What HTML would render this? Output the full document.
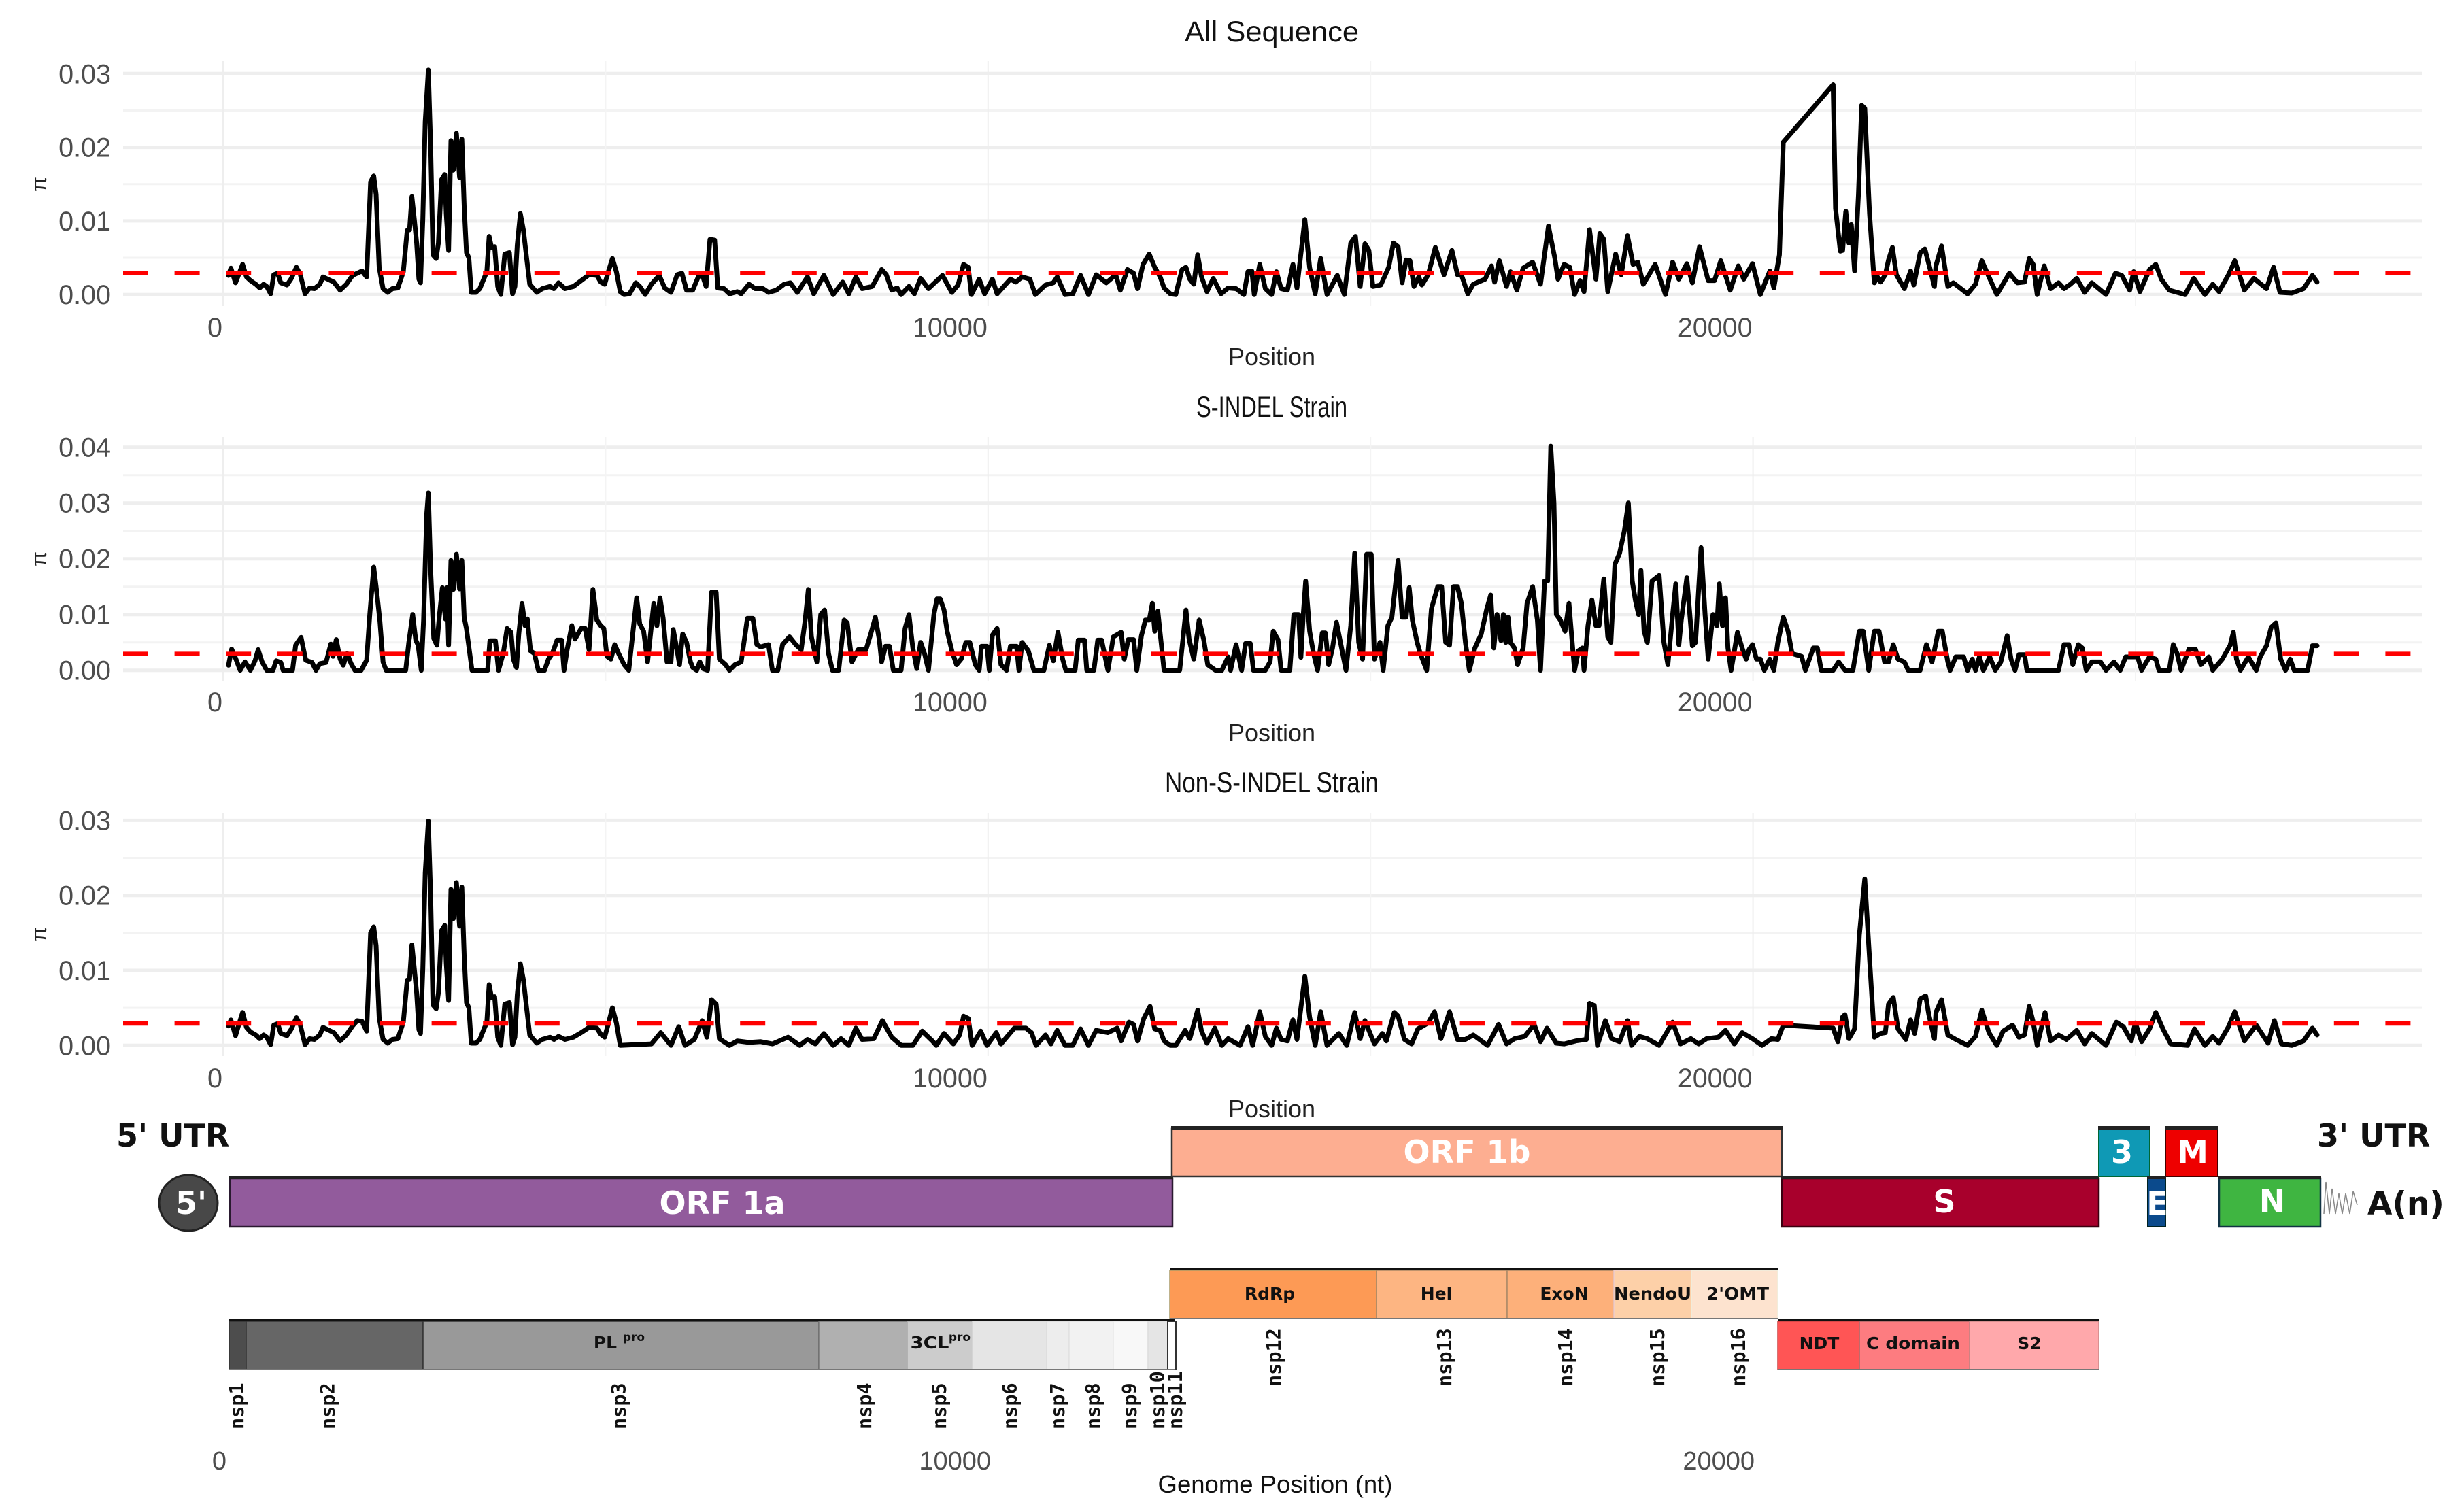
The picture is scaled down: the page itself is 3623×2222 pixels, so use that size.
<!DOCTYPE html>
<html lang="en">
<head>
<meta charset="utf-8">
<title>Nucleotide diversity across the genome</title>
<style>
html,body{margin:0;padding:0;background:#fff;width:3623px;height:2222px;overflow:hidden}
svg{display:block}
text{font-family:"Liberation Sans",sans-serif}
.gene{font-family:"DejaVu Sans","Liberation Sans",sans-serif;font-weight:700}
.nsp{font-family:"DejaVu Sans Mono","Liberation Mono",monospace;font-weight:700;font-size:28.5px;fill:#111}
.dom{font-family:"DejaVu Sans","Liberation Sans",sans-serif;font-weight:700;font-size:25px;fill:#111;text-anchor:middle}
.w46{font-size:46px;fill:#fff;text-anchor:middle}
.ax{font-size:38px;fill:#4d4d4d;text-anchor:end}
</style>
</head>
<body>
<svg id="figure" xmlns="http://www.w3.org/2000/svg" width="3623" height="2222" viewBox="0 0 3623 2222">
<rect width="3623" height="2222" fill="#fff"/>
<g id="charts"></g>

<g>
<text class="gene" x="171" y="1686" font-size="46" fill="#111">5' UTR</text>
<text class="gene" x="3407" y="1686" font-size="46" fill="#111">3' UTR</text>
<ellipse cx="277" cy="1769" rx="43" ry="41" fill="#484848" stroke="#222" stroke-width="3"/>
<text class="gene w46" x="281" y="1785">5'</text>

<rect x="338" y="1733" width="1386" height="71" fill="#925b9c" stroke="#2a1a30" stroke-width="2.5"/>
<rect x="337" y="1729" width="1388" height="5" fill="#222"/>
<text class="gene w46" x="1062" y="1785">ORF 1a</text>

<rect x="1723" y="1660" width="897" height="70" fill="#fdae91" stroke="#333" stroke-width="2.5"/>
<rect x="1722" y="1656" width="899" height="5" fill="#222"/>
<text class="gene w46" x="2157" y="1710">ORF 1b</text>

<rect x="2620" y="1733" width="466" height="71" fill="#a8002c" stroke="#3a0010" stroke-width="2.5"/>
<rect x="2619" y="1729" width="468" height="5" fill="#222"/>
<text class="gene w46" x="2859" y="1783">S</text>

<rect x="3086" y="1660" width="75" height="70" fill="#0f99b5" stroke="#063" stroke-width="2"/>
<rect x="3085" y="1656" width="77" height="5" fill="#222"/>
<text class="gene w46" x="3120" y="1710">3</text>

<rect x="3184" y="1660" width="77" height="70" fill="#ee0000" stroke="#400" stroke-width="2"/>
<rect x="3183" y="1656" width="79" height="5" fill="#222"/>
<text class="gene w46" x="3224" y="1710">M</text>

<rect x="3158" y="1733" width="26" height="71" fill="#0b4a8c" stroke="#022" stroke-width="2"/>
<rect x="3157" y="1729" width="28" height="5" fill="#222"/>
<text class="gene w46" x="3172" y="1786">E</text>

<rect x="3263" y="1733" width="149" height="71" fill="#3fb541" stroke="#134" stroke-width="2.5"/>
<rect x="3262" y="1729" width="151" height="5" fill="#222"/>
<text class="gene w46" x="3341" y="1782">N</text>

<path d="M3417 1785 L3420 1738 L3425 1785 L3429 1748 L3434 1785 L3439 1755 L3444 1785 L3449 1755 L3455 1785 L3460 1752 L3466 1772" fill="none" stroke="#888" stroke-width="1.5"/>
<text class="gene" x="3481" y="1786" font-size="47" fill="#111">A(n)</text>

<g stroke-width="1.5">
<rect x="337" y="1943" width="25" height="71" fill="#4d4d4d" stroke="#333"/>
<rect x="362" y="1943" width="260" height="71" fill="#666" stroke="#333"/>
<rect x="622" y="1943" width="582" height="71" fill="#999" stroke="#333"/>
<rect x="1204" y="1943" width="130" height="71" fill="#b0b0b0" stroke="#777"/>
<rect x="1334" y="1943" width="96" height="71" fill="#ccc" stroke="#aaa"/>
<rect x="1430" y="1943" width="109" height="71" fill="#e5e5e5" stroke="#ddd"/>
<rect x="1539" y="1943" width="33" height="71" fill="#ededed" stroke="#ddd"/>
<rect x="1572" y="1943" width="65" height="71" fill="#f2f2f2" stroke="#e2e2e2"/>
<rect x="1637" y="1943" width="51" height="71" fill="#f8f8f8" stroke="#e8e8e8"/>
<rect x="1688" y="1943" width="29" height="71" fill="#e5e5e5" stroke="#ddd"/>
<rect x="1717" y="1943" width="12" height="71" fill="#fff" stroke="#333" stroke-width="2"/>
<rect x="337" y="1939" width="1390" height="4" fill="#111" stroke="none"/>
<rect x="337" y="2013" width="1390" height="2" fill="#777" stroke="none"/>
</g>
<g stroke-width="1.5">
<rect x="1720" y="1868" width="304" height="71" fill="#fd9a55" stroke="#a96"/>
<rect x="2024" y="1868" width="192" height="71" fill="#fdb582" stroke="#a86"/>
<rect x="2216" y="1868" width="157" height="71" fill="#fdb07a" stroke="#a86"/>
<rect x="2373" y="1868" width="114" height="71" fill="#fdd0a8" stroke="#ecc"/>
<rect x="2487" y="1868" width="127" height="71" fill="#fde3cf" stroke="#eed"/>
<rect x="1720" y="1864" width="894" height="4" fill="#111" stroke="none"/>
<rect x="1720" y="1938" width="894" height="2" fill="#777" stroke="none"/>
</g>
<g stroke-width="1.5">
<rect x="2614" y="1943" width="120" height="71" fill="#ff5555" stroke="#c44"/>
<rect x="2734" y="1943" width="162" height="71" fill="#fd7c80" stroke="#a66"/>
<rect x="2896" y="1943" width="190" height="71" fill="#ffa8ab" stroke="#c88"/>
<rect x="2614" y="1939" width="472" height="4" fill="#111" stroke="none"/>
<rect x="2614" y="2013" width="472" height="2" fill="#777" stroke="none"/>
</g>

<text class="dom" x="1867" y="1911">RdRp</text>
<text class="dom" x="2112" y="1911">Hel</text>
<text class="dom" x="2300" y="1911">ExoN</text>
<text class="dom" x="2430" y="1911" textLength="114" lengthAdjust="spacingAndGlyphs">NendoU</text>
<text class="dom" x="2555" y="1911" textLength="92" lengthAdjust="spacingAndGlyphs">2'OMT</text>
<text class="dom" x="2675" y="1984">NDT</text>
<text class="dom" x="2813" y="1984" textLength="138" lengthAdjust="spacingAndGlyphs">C domain</text>
<text class="dom" x="2984" y="1984">S2</text>
<text class="dom" x="890" y="1983">PL</text>
<text class="dom" x="932" y="1972" style="font-size:17px">pro</text>
<text class="dom" x="1367" y="1983" textLength="57" lengthAdjust="spacingAndGlyphs">3CL</text>
<text class="dom" x="1411" y="1972" style="font-size:17px">pro</text>

<text class="nsp" transform="translate(358 2102) rotate(-90)">nsp1</text>
<text class="nsp" transform="translate(492 2102) rotate(-90)">nsp2</text>
<text class="nsp" transform="translate(920 2102) rotate(-90)">nsp3</text>
<text class="nsp" transform="translate(1281 2102) rotate(-90)">nsp4</text>
<text class="nsp" transform="translate(1391 2102) rotate(-90)">nsp5</text>
<text class="nsp" transform="translate(1495 2102) rotate(-90)">nsp6</text>
<text class="nsp" transform="translate(1565 2102) rotate(-90)">nsp7</text>
<text class="nsp" transform="translate(1617 2102) rotate(-90)">nsp8</text>
<text class="nsp" transform="translate(1671 2102) rotate(-90)">nsp9</text>
<text class="nsp" transform="translate(1712 2102) rotate(-90)">nsp10</text>
<text class="nsp" transform="translate(1738 2102) rotate(-90)">nsp11</text>
<text class="nsp" transform="translate(1883 2039) rotate(-90)">nsp12</text>
<text class="nsp" transform="translate(2134 2039) rotate(-90)">nsp13</text>
<text class="nsp" transform="translate(2312 2039) rotate(-90)">nsp14</text>
<text class="nsp" transform="translate(2447 2039) rotate(-90)">nsp15</text>
<text class="nsp" transform="translate(2566 2039) rotate(-90)">nsp16</text>

<text class="ax" x="333" y="2161">0</text>
<text class="ax" x="1457" y="2161">10000</text>
<text class="ax" x="2580" y="2161">20000</text>
<text x="1875" y="2195" font-size="36.5" fill="#111" text-anchor="middle">Genome Position (nt)</text>
</g>
</svg>

<script>
const xTickLabels = [0, 10000, 20000];
const gridPositionsAll = [0, 5000, 10000, 15000, 25000];
const gridPositionsStrain = [0, 5000, 10000, 15000, 20000, 25000];
const ticksAll = [0, 0.01, 0.02, 0.03];
const ticksSindel = [0, 0.01, 0.02, 0.03, 0.04];
const ticksNon = [0, 0.01, 0.02, 0.03];
const thresholdPi = 0.00293;

/* Window positions (nt) and pi values (in units of 0.001) */
const allPos = [71,102,163,204,255,306,357,428,479,530,571,622,663,714,755,836,887,959,1010,1071,1132,1193,1265,1306,1367,1448,1530,1612,1693,1754,1816,1877,1928,1969,2000,2040,2091,2152,2213,2285,2356,2407,2438,2468,2499,2530,2560,2581,2611,2642,2683,2713,2744,2785,2815,2856,2897,2917,2948,2978,3009,3050,3091,3121,3152,3182,3213,3244,3305,3356,3407,3448,3478,3509,3550,3590,3631,3682,3743,3784,3815,3845,3886,3927,3968,4009,4100,4172,4274,4325,4386,4468,4580,4682,4784,4886,4937,4988,5039,5090,5141,5192,5243,5314,5396,5447,5518,5600,5702,5773,5855,5936,5998,6059,6140,6212,6263,6314,6365,6426,6467,6548,6620,6722,6773,6875,6956,7058,7130,7232,7334,7415,7507,7640,7721,7854,7976,8099,8180,8272,8354,8486,8609,8670,8741,8813,8864,8966,9037,9119,9221,9404,9527,9608,9680,9741,9782,9884,9955,10057,10118,10292,10363,10445,10547,10618,10751,10853,10904,11006,11108,11210,11312,11414,11546,11669,11730,11822,11903,11954,12026,12107,12179,12250,12301,12383,12454,12536,12587,12638,12689,12740,12791,12862,12944,13046,13139,13242,13345,13397,13449,13480,13552,13625,13707,13770,13831,13914,13986,14038,14141,14203,14276,14348,14431,14565,14658,14741,14803,14865,14927,14979,15030,15134,15237,15299,15361,15413,15465,15516,15568,15630,15671,15754,15847,15961,16064,16137,16188,16271,16343,16498,16581,16622,16685,16778,16830,16912,16995,17119,17222,17326,17408,17450,17532,17605,17667,17739,17791,17863,17946,17998,18049,18101,18204,18277,18359,18432,18494,18566,18721,18856,18949,19031,19135,19207,19300,19414,19497,19579,19703,19807,19879,19993,20096,20220,20272,20345,20396,21047,21078,21141,21171,21213,21254,21285,21327,21378,21420,21461,21523,21585,21626,21668,21729,21771,21822,21874,21978,22060,22102,22185,22247,22309,22371,22391,22464,22546,22618,22805,22908,22991,23084,23187,23352,23456,23549,23611,23663,23714,23807,23890,23994,24066,24149,24231,24335,24428,24614,24738,24820,24924,24976,25058,25183,25265,25337,25441,25648,25761,25906,26010,26092,26216,26298,26423,26547,26712,26805,26888,27043,27198,27312,27374];
const allPi = [2.6,3.6,1.6,2.7,4.1,2.4,1.9,1.4,0.9,1.4,1.1,0.1,2.7,2.9,1.6,1.3,2.1,3.7,2.7,0.1,0.9,0.8,1.4,2.4,2.1,1.7,0.6,1.4,2.6,2.9,3.2,2.4,15.3,16.1,13.6,3.7,0.8,0.3,0.8,0.9,3.1,8.7,8.8,13.3,10.3,7,2.1,1.6,10.3,23.5,30.5,20.2,5.4,4.9,7,15.6,16.3,11,6,20.9,16.9,21.9,15.9,21.1,12,5.7,5,0.3,0.3,0.8,2.1,3.1,7.9,6.4,6.5,1.1,0,5.5,5.7,0.1,1.1,6.7,11,8.7,5,1.4,0.3,0.8,1.1,0.8,1.6,0.8,1.1,1.9,2.7,2.6,1.7,1.4,3.2,4.9,3.1,0.4,0,0.1,1.6,1.1,0,1.4,2.6,0.9,0.3,2.7,2.9,0.6,0.6,2.4,2.7,1.1,7.5,7.4,0.9,0.8,0.1,0.4,0.1,1.4,0.8,0.8,0.3,0.6,1.4,1.6,0.3,2.4,0.1,2.6,0,1.7,0.1,2.4,0.8,1.1,3.4,2.7,0.6,0.9,0,1.1,0.1,2.2,0.8,2.6,0.3,1.3,4.1,3.7,0,2.1,0.1,2.1,0.1,2.1,1.7,2.4,2.1,0,1.3,1.6,2.4,0,0.1,2.6,0,2.7,1.6,2.7,0.6,3.4,2.9,0.8,4.1,5.5,3.7,2.4,0.9,0.1,0,3.4,3.7,2.1,1.4,5.4,2.4,0.4,2.2,0.1,0.9,0.8,0,3.1,3.2,0,4.1,0.8,0,3.1,0.8,0.6,4.1,0.9,10.2,3.7,0.1,4.9,0,2.6,0,7,7.9,1.1,6.9,6,1.1,1.3,3.7,7,6.5,1.6,4.7,4.6,1.1,2.4,1.3,2.7,6.4,2.7,6,2.7,2.7,0.1,1.4,2.1,3.9,1.7,4.6,1.1,3.1,0.6,3.6,4.4,1.4,9.3,5,2.1,4.1,3.7,0,1.9,0.4,8.8,2.1,8.3,7.5,0.4,5.5,2.7,8,4.1,4.4,1.4,4.1,0,4.4,2.1,4.2,1.6,6.5,1.9,1.9,4.6,0.6,3.9,2.1,4.2,0,3.2,0.9,5.4,20.7,28.5,11.7,5.9,6,11.3,7,9.5,3.2,13.6,25.7,25.3,11,1.6,2.4,1.7,2.7,4.7,6.4,2.7,0.8,3.2,1.3,5.7,6.2,3.7,1.1,3.9,6.6,1.1,1.6,0.1,1.4,4.6,2.4,0,2.9,1.6,1.7,4.9,4.1,0,3.9,0.8,1.6,0.8,1.4,2.2,0.3,1.6,0,2.9,2.6,0.6,3.1,0.4,3.4,4.1,2.1,0.6,0,2.2,0,1.4,0.4,2.7,4.6,0.6,2.2,0.8,3.7,0.3,0.2,0.8,2.6,1.7];

const sindelPos = [71,112,163,224,286,357,418,459,510,571,653,694,755,785,908,949,1020,1081,1163,1214,1265,1346,1408,1438,1479,1530,1571,1622,1673,1724,1805,1877,1918,1969,2009,2050,2091,2132,2387,2428,2479,2519,2550,2591,2621,2662,2683,2713,2754,2795,2825,2866,2907,2927,2948,2978,3009,3050,3091,3121,3152,3182,3254,3458,3488,3560,3601,3662,3713,3764,3794,3835,3866,3907,3947,3978,4019,4070,4121,4202,4253,4304,4366,4427,4457,4498,4559,4600,4682,4733,4784,4835,4886,4937,4978,5018,5069,5120,5171,5243,5304,5406,5447,5498,5549,5630,5671,5712,5753,5804,5855,5885,5936,5967,6008,6059,6110,6140,6191,6232,6273,6334,6385,6446,6487,6569,6620,6691,6773,6854,6926,6977,7028,7130,7181,7252,7313,7405,7487,7558,7609,7650,7691,7762,7813,7864,7915,7966,8048,8119,8160,8221,8303,8405,8466,8527,8578,8609,8660,8711,8762,8864,8915,8966,9017,9068,9119,9170,9221,9292,9333,9374,9425,9466,9527,9588,9649,9710,9761,9833,9884,9914,9986,10016,10057,10118,10169,10241,10292,10373,10404,10445,10526,10598,10730,10802,10853,10914,10975,11016,11138,11179,11261,11291,11383,11434,11485,11567,11638,11740,11781,11832,11903,11944,12005,12056,12107,12148,12179,12220,12260,12301,12505,12546,12587,12628,12689,12760,12821,12872,12974,13056,13139,13170,13242,13314,13366,13428,13470,13625,13687,13728,13790,13831,13945,13997,14059,14090,14121,14152,14204,14255,14307,14369,14410,14452,14503,14555,14607,14679,14741,14793,14845,14896,14948,15010,15051,15124,15165,15227,15279,15361,15413,15465,15506,15547,15610,15651,15734,15796,15878,15930,15982,16033,16085,16137,16188,16240,16292,16364,16447,16519,16571,16612,16654,16705,16736,16767,16798,16829,16881,16922,16995,17046,17119,17181,17222,17274,17315,17356,17398,17429,17481,17543,17594,17636,17667,17718,17770,17791,17842,17894,17946,17987,18049,18101,18142,18194,18256,18318,18370,18421,18463,18504,18535,18576,18618,18680,18773,18835,18887,18949,18990,19031,19062,19135,19207,19249,19321,19373,19414,19476,19528,19559,19600,19641,19672,19714,19796,19858,19910,19951,19993,20045,20096,20148,20220,20272,20324,20396,20458,20510,20634,20685,20789,20841,20892,21047,21119,21202,21306,21389,21440,21512,21585,21647,21719,21771,21833,21895,21978,22029,22184,22267,22340,22422,22474,22546,22577,22650,22753,22805,22867,22908,22960,23011,23094,23167,23239,23322,23373,23425,23477,23549,23580,23994,24066,24128,24180,24252,24304,24355,24428,24542,24614,24717,24800,24872,25028,25079,25182,25265,25306,25441,25493,25544,25596,25699,25782,25854,25958,26010,26134,26237,26279,26320,26372,26475,26578,26630,26712,26774,26836,26898,26961,27023,27074,27250,27312,27374];
const sindelPi = [0.9,3.8,2.2,0,1.5,0,1.7,3.7,1.5,0,0,1.7,1.4,0,0,4.5,5.9,1.8,1.4,0,1.2,1.4,4.7,2.5,5.5,2,0.9,3,1.2,0,0,1.8,10,18.5,14,8.8,1.5,0,0,5,10,5.4,4.5,0,9,28,31.8,18,5.7,4.5,9.5,14.8,9.2,14.8,4.5,19.7,14.5,20.8,14.6,19.7,9.5,7.4,0,0,5.3,5.3,0,3,7.5,6.8,2,0.5,6.5,12,8,9.2,3.5,3,0,0,2,3,5.4,5.4,0,3.7,8,5.6,7.5,7.5,3.7,14.5,9,8,7.5,2.5,2,4.6,3,1,0,13,8.3,7,1.5,12,8,13,9.3,1.5,1.5,7.3,3.5,1,6.5,5,1.5,0.5,0,1.5,0.3,0,14,14,2,1,0,1,1.5,9.3,9.3,4.6,4.2,4.6,0,0,4.6,6,4.6,3.7,9,14.5,6,1.5,10,10.8,3,0,0,9,8.5,1.5,3.7,3.7,6.5,9.5,5.5,1.5,4.3,4.3,0,0,7.5,10,4,0.3,5,3,0,10,12.8,12.8,10.8,7,3.5,1,2,5,5,1,0,4.3,4.3,0,6.3,7.5,1,0,4.3,4.3,0,5,3.5,0,0,4.5,1.7,6.8,2,0,0,5.4,5.4,0,0,5.4,5.4,0,6,6.8,2,5.5,5.5,0,6.2,9,9,12,7,10.6,5.3,0,0,5.4,10.8,5.6,2,9,5.4,1,0,0,2.4,0,4.6,0,4.8,4.8,0,0,1.5,7,5.5,0,0,10,10,2.3,10,16,7,3,0,6.7,6.7,1,4,8.6,5,0,8,21,5,2,20.8,20.8,2,5,0,8,9.5,19.7,9.5,9.5,14.8,9,5,3,0,11,15,15,5,4.5,15,15,12,5,0,4,6.5,11,13.5,4,10,5.3,10,5,9.5,5,4,1,4,12,15,9,0,16,16,40.2,30,10,9,7,12,5,0,3.5,4,0,8,12.6,8,8,16.4,6,5,19,21,25,30,16,12.5,10,17.9,7,5,16,17,5,1,10,15.5,4.6,9,16.6,4.4,5,22,10,2,10,8,15.5,8,13,4,0,6.8,4,2,3.8,4.6,2,2,0,2,0,5,9.5,7,3,2.5,0,4,4,0,0,1.5,0,0,7,7,0,7,7,1.5,1.5,4.6,2,1.5,0,0,4.6,1.5,7,7,1.5,0,2.4,2.4,0,2,0,2.4,0,2.4,0,1.5,6.2,2,0,2.8,2.8,0,0,4.6,4.6,1,4.6,4,0,1.5,1.5,0,1.5,0,2.4,2.4,0,2.4,2,0,0,4.6,3,0,3.8,3.8,1,2.4,0,2,4.5,6.8,2,0,2.4,0,2.4,4.4,7.7,8.5,2,0,2,0,0,4.4,4.4];

const nonPos = [71,102,163,204,255,306,357,428,479,530,571,622,663,714,755,836,887,959,1010,1071,1132,1193,1265,1306,1367,1448,1530,1612,1693,1754,1816,1877,1928,1969,2000,2040,2091,2152,2213,2285,2356,2407,2438,2468,2499,2530,2560,2581,2611,2642,2683,2713,2744,2785,2815,2856,2897,2917,2948,2978,3009,3050,3091,3121,3152,3182,3213,3244,3305,3356,3407,3448,3478,3509,3550,3590,3631,3682,3743,3784,3815,3845,3886,3927,3968,4009,4100,4172,4274,4325,4386,4468,4580,4682,4784,4886,4937,4988,5039,5090,5141,5192,5600,5722,5855,5957,6038,6161,6263,6324,6385,6446,6487,6620,6722,6875,7028,7181,7385,7538,7640,7742,7854,7976,8078,8180,8272,8354,8507,8619,8741,8864,9017,9139,9272,9323,9425,9547,9629,9680,9741,9792,9904,9986,10108,10169,10343,10496,10567,10628,10751,10822,10904,11006,11108,11210,11312,11414,11567,11689,11740,11842,11903,11954,12036,12118,12179,12250,12301,12383,12454,12577,12638,12740,12791,12862,12964,13056,13139,13294,13397,13459,13552,13625,13707,13770,13831,13914,13986,14038,14141,14203,14276,14348,14431,14586,14689,14793,14865,14927,15051,15155,15206,15310,15361,15444,15537,15620,15754,15837,15920,16033,16137,16240,16343,16530,16674,16778,16881,17015,17139,17222,17305,17429,17532,17687,17822,17863,17925,17966,18070,18153,18256,18359,18411,18514,18618,18773,18949,19052,19187,19290,19393,19548,19641,19755,19858,19993,20117,20241,20324,20396,21047,21109,21171,21202,21254,21327,21390,21461,21523,21585,21668,21729,21771,21833,21895,21998,22060,22112,22185,22257,22298,22371,22391,22464,22546,22650,22805,22908,22991,23084,23187,23269,23393,23476,23549,23611,23663,23714,23818,23890,23994,24097,24231,24335,24428,24614,24748,24841,24945,24997,25080,25183,25265,25358,25461,25678,25772,25906,26010,26092,26216,26298,26423,26578,26733,26815,26909,27043,27198,27312,27374];
const nonPi = [2.6,3.4,1.3,2.7,4.4,2.4,1.8,1.4,0.9,1.4,1.1,0.1,2.7,2.9,1.6,1.3,2.1,3.7,2.7,0.1,0.9,0.8,1.4,2.4,2.1,1.7,0.6,1.4,2.6,3.3,3.2,1.9,15,15.8,13.3,3.7,0.8,0.3,0.8,0.9,3.1,8.7,8.8,13.4,10.3,7,2.1,1.6,10.3,23,29.9,20,5.4,4.9,7,15.3,16,11,6,20.8,16.9,21.7,15.9,21.1,12,5.7,5,0.3,0.3,0.8,2.1,3.1,8.1,6.4,6.5,1.1,0,5.5,5.7,0.1,1.1,6.7,10.9,8.7,5,1.4,0.3,0.8,1.1,0.8,1.2,0.8,1.1,1.7,2.4,2.3,1.5,1.1,3,5,3,0,0.2,1.7,0,2.5,0,0.8,3.3,1.1,6.1,5.5,0.9,0,0.6,0.4,0.5,0.2,1.1,0,0.8,0.2,1.6,0,0.9,0,2.3,0.8,0.9,3.3,1.1,0,0,1.9,0.6,0,1.6,0.2,1.4,3.9,3.6,0,1.9,0,1.7,0.2,2.3,2.3,1.7,0,1.4,0.2,2,0,0,2.2,0,2,1.7,2.3,0.6,3.1,2.8,0.6,3.6,5.2,2.2,2,0.6,0,0,2,0.9,4.7,1.9,0.3,2.3,0,0.9,0,2.5,0,4.5,1.2,0,2.3,0.8,0.6,3.4,0.8,9.2,3.8,0,4.5,0,1.6,0,4.4,0.9,3.3,0.2,1.6,0.6,4.4,3.9,0.8,0.2,2.2,3,4.5,0.9,4.5,0.8,0.8,1.4,0,2.8,0.2,0.9,1.2,2.8,0.5,2.3,0.3,0.2,0.6,0.8,5.6,5.3,0,3.3,0.9,0.5,3.3,0,1.2,0.9,0,3.1,0.2,0.9,0.2,0.9,1.1,2,0.2,1.7,0.9,0,0.9,0.8,2.7,2.3,0.5,3.8,4.1,0.9,2.2,14.7,22.2,11.6,1.1,1.6,1.7,5.5,6.4,2.2,0.8,3.4,1.6,6.2,6.6,4.1,0.9,4.4,6.1,1.4,0.8,0,1.2,4.7,1.7,0,1.9,2.7,1.1,1.4,5.2,3.1,0,4.4,0.6,1.4,0.8,2,0.2,1.6,0,3.1,2.5,0.6,3,0.5,2.2,4.4,2.2,0.2,0,2.2,0,1.2,0.3,2.5,4.5,0.6,2.7,0.3,3.3,0.2,0,0.6,2.3,1.4];

const NS = 'http://www.w3.org/2000/svg';
const charts = document.getElementById('charts');

function xScale(position) { return 328 + position * 0.11248; }
function yScaleFor(zeroY, pxPerUnit) { return function (pi) { return zeroY - pi * pxPerUnit; }; }

function add(parent, tag, attrs, text) {
  const el = document.createElementNS(NS, tag);
  for (const k in attrs) el.setAttribute(k, attrs[k]);
  if (text !== undefined) el.textContent = text;
  parent.appendChild(el);
  return el;
}

function drawPanel(key, title, titleLength, positions, values, ticks, gridX, zeroY, pxPerUnit, top, bottom, titleY, tickY, axisY, piY) {
  const y = yScaleFor(zeroY, pxPerUnit);
  const g = add(charts, 'g', {});
  
  

  const maxTick = ticks[ticks.length - 1];
  for (let i = 0; i <= Math.round(maxTick / 0.005); i++) {
    const v = i * 0.005;
    const major = i % 2 === 0;
    const line = add(g, 'line', { x1: 181, x2: 3561, y1: y(v), y2: y(v), stroke: major ? '#eeeeee' : '#f3f3f3', 'stroke-width': major ? 5 : 3 });
    
    
  }
  gridX.forEach(function (p) {
    const line = add(g, 'line', { x1: xScale(p), x2: xScale(p), y1: top, y2: bottom, stroke: p % 10000 === 0 ? '#eeeeee' : '#f4f4f4', 'stroke-width': 2 });
    
    
  });

  ticks.forEach(function (v) {
    const t = add(g, 'text', { x: 163, y: y(v) + 14, 'font-size': 39.5, fill: '#4d4d4d', 'text-anchor': 'end' }, v.toFixed(2));
    
    
  });
  xTickLabels.forEach(function (p) {
    const t = add(g, 'text', { x: xScale(p) - 1, y: tickY, 'font-size': 39.5, fill: '#4d4d4d', 'text-anchor': 'end' }, String(p));
    
    
  });

  const titleEl = add(g, 'text', { x: 1870, y: titleY, 'font-size': 43, fill: '#111', 'text-anchor': 'middle', textLength: titleLength, lengthAdjust: 'spacingAndGlyphs' }, title);
  
  

  const axisTitle = add(g, 'text', { x: 1870, y: axisY, 'font-size': 36, fill: '#222', 'text-anchor': 'middle' }, 'Position');
  
  

  const piLabel = add(g, 'text', { transform: 'translate(68 ' + piY + ') rotate(-90)', 'font-size': 32, fill: '#222', 'text-anchor': 'middle' }, 'π');
  
  

  let d = '';
  positions.forEach(function (p, i) {
    d += (i ? 'L' : 'M') + xScale(p).toFixed(1) + ' ' + y(values[i] / 1000).toFixed(1);
  });
  const path = add(g, 'path', { d: d, fill: 'none', stroke: '#000', 'stroke-width': 7, 'stroke-linejoin': 'round', 'stroke-linecap': 'round' });
  
  

  const ref = add(g, 'line', { x1: 181, x2: 3561, y1: y(thresholdPi), y2: y(thresholdPi), stroke: '#ff0000', 'stroke-width': 6.5, 'stroke-dasharray': '37 38.6' });
  
  
}

drawPanel('all-sequence', 'All Sequence', 256, allPos, allPi, ticksAll, gridPositionsAll, 433.2, 10830, 90, 450, 61, 495, 537, 271);
drawPanel('s-indel', 'S-INDEL Strain', 222, sindelPos, sindelPi, ticksSindel, gridPositionsStrain, 985.7, 8200, 643, 1002, 613, 1046, 1090, 822);
drawPanel('non-s-indel', 'Non-S-INDEL Strain', 314, nonPos, nonPi, ticksNon, gridPositionsStrain, 1537.3, 11030, 1195, 1553, 1165, 1599, 1643, 1374);
</script>
</body>
</html>
